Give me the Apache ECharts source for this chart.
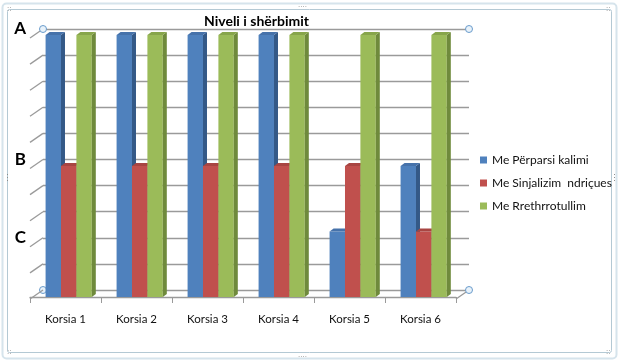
<!DOCTYPE html>
<html><head><meta charset="utf-8">
<script src="https://cdn.jsdelivr.net/npm/echarts@6/dist/echarts.min.js"></script>
<style>html,body{margin:0;padding:0;background:#fff}#c{width:620px;height:361px}</style>
</head><body><div id="c"></div>
<script>
// ---- data ----
const categories = ['Korsia 1','Korsia 2','Korsia 3','Korsia 4','Korsia 5','Korsia 6'];
const seriesNames = ['Me Përparsi kalimi','Me Sinjalizim  ndriçues','Me Rrethrrotullim'];
const perparsiKalimi = [10,10,10,10,2.5,5];
const sinjalizimNdricues = [5,5,5,5,5,2.5];
const rrethrrotullim = [10,10,10,10,10,10];
const levelTicks = [0,1,2,3,4,5,6,7,8,9,10];
const levelLabels = {10:'A',5:'B',2:'C'};
const titleText = 'Niveli i shërbimit';

// ---- styles ----
const frontCol = ['#4F81BD','#C0504D','#9BBB59'];
const sideCol = ['#345987','#8E3B39','#6F8A3C'];
const topCol = ['#4672AA','#A84542','#87A54B'];
const FONT = 'Lato, "Open Sans", sans-serif';
const back = {left:43, top:29, width:426, height:261};
const wallDX = 13, wallDY = 9;

function barRender(s){
  return function(params, api){
    const i = api.value(0), v = api.value(1);
    const base = api.coord([i, 0]);
    const top = api.coord([i, v]);
    const cw = api.size([1, 0])[0];
    const bw = cw * 0.217;
    const x0 = base[0] - 1.5 * bw + cw * 0.045 + s * bw;
    const x1 = x0 + bw;
    const yb = base[1], yt = top[1];
    const dx = 4, dy = 3;
    return {type:'group', children:[
      {type:'rect', shape:{x:x0, y:yt, width:bw, height:yb-yt}, style:{fill:frontCol[s]}},
      {type:'polygon', shape:{points:[[x1,yt],[x1+dx,yt-dy],[x1+dx,yb-dy],[x1,yb]]}, style:{fill:sideCol[s]}},
      {type:'polygon', shape:{points:[[x0,yt],[x0+dx,yt-dy],[x1+dx,yt-dy],[x1,yt]]}, style:{fill:topCol[s]}}
    ]};
  };
}

function wallRender(params, api){
  const v = api.value(1);
  const cs = params.coordSys;
  const y = api.coord([0, v])[1];
  const st = {stroke:'#9a9a9a', lineWidth:1.3};
  const ch = [{type:'line', shape:{x1:cs.x, y1:y, x2:cs.x-wallDX, y2:y+wallDY}, style:st}];
  if (v === 0) {
    ch.push({type:'line', shape:{x1:cs.x+cs.width, y1:y, x2:cs.x+cs.width-wallDX, y2:y+wallDY}, style:st});
  }
  return {type:'group', children:ch};
}

const valuesList = [perparsiKalimi, sinjalizimNdricues, rrethrrotullim];

const chart = echarts.init(document.getElementById('c'), null, {renderer:'canvas'});
const option = {
  backgroundColor:'#fff',
  animation:false,
  title:{text:titleText, left:199, top:9, textStyle:{fontFamily:FONT, fontSize:14, fontWeight:'bold', color:'#000'}},
  legend:{
    orient:'vertical', left:475, top:148, icon:'rect', itemWidth:7, itemHeight:7, itemGap:9,
    data:seriesNames,
    textStyle:{fontFamily:FONT, fontSize:12, color:'#111', lineHeight:14}
  },
  grid:[
    {left:back.left, top:back.top, width:back.width, height:back.height},
    {left:back.left - wallDX, top:35, width:back.width, height:262}
  ],
  xAxis:[
    {gridIndex:0, type:'category', data:categories, show:false},
    {gridIndex:1, type:'category', data:categories, offset:2,
      axisLine:{lineStyle:{color:'#9a9a9a', width:1.3}},
      axisTick:{show:true, length:6, lineStyle:{color:'#9a9a9a'}},
      axisLabel:{fontFamily:FONT, fontSize:11.5, color:'#111', margin:14}
    }
  ],
  yAxis:[
    {gridIndex:0, type:'value', min:0, max:10, interval:1,
      axisLine:{show:false}, axisTick:{show:false},
      splitLine:{lineStyle:{color:'#9a9a9a', width:1.3}},
      axisLabel:{formatter:v=>levelLabels[v]||'', fontFamily:FONT, fontSize:17, fontWeight:'bold', color:'#000', margin:17}
    },
    {gridIndex:1, type:'value', min:0, max:10, interval:1, show:false, splitLine:{show:false}}
  ],
  graphic:[
    {type:'rect', shape:{x:2.5, y:3.5, width:614, height:355, r:4}, style:{fill:null, stroke:'#d6e4ec', lineWidth:2}, silent:true},
    {type:'rect', shape:{x:7.5, y:9.5, width:604, height:343, r:2}, style:{fill:null, stroke:'#b4c9d4', lineWidth:1}, silent:true},
    {type:'circle', shape:{cx:back.left, cy:back.top, r:3.5}, style:{fill:'#e8f2fa', stroke:'#6a9ccc', lineWidth:1}, z:100},
    {type:'circle', shape:{cx:back.left+back.width, cy:back.top, r:3.5}, style:{fill:'#e8f2fa', stroke:'#6a9ccc', lineWidth:1}, z:100},
    {type:'circle', shape:{cx:back.left+back.width, cy:back.top+back.height, r:3.5}, style:{fill:'#e8f2fa', stroke:'#6a9ccc', lineWidth:1}, z:100},
    {type:'circle', shape:{cx:back.left, cy:back.top+back.height, r:3.5}, style:{fill:'#e8f2fa', stroke:'#6a9ccc', lineWidth:1}, z:1},
    {type:'text', style:{x:7, y:5, text:'::', fill:'#888', fontSize:8}},
    {type:'text', style:{x:606, y:5, text:'::', fill:'#888', fontSize:8}},
    {type:'text', style:{x:7, y:348, text:'::', fill:'#888', fontSize:8}},
    {type:'text', style:{x:606, y:348, text:'::', fill:'#888', fontSize:8}},
    {type:'text', style:{x:298, y:1, text:'....', fill:'#888', fontSize:8}},
    {type:'text', style:{x:298, y:351, text:'....', fill:'#888', fontSize:8}},
    {type:'text', style:{x:3, y:174, text:'⋮', fill:'#888', fontSize:9}},
    {type:'text', style:{x:610, y:174, text:'⋮', fill:'#888', fontSize:9}}
  ],
  series:[
    {type:'custom', name:'walls', xAxisIndex:0, yAxisIndex:0, renderItem:wallRender,
      data:levelTicks.map(v=>[0, v]), silent:true, z:1}
  ].concat(seriesNames.map((name, s)=>({
    type:'custom', name:name, xAxisIndex:1, yAxisIndex:1,
    itemStyle:{color:frontCol[s]},
    renderItem:barRender(s),
    data:valuesList[s].map((v, i)=>[i, v]), z:5
  })))
};
chart.setOption(option);
</script>
</body></html>
